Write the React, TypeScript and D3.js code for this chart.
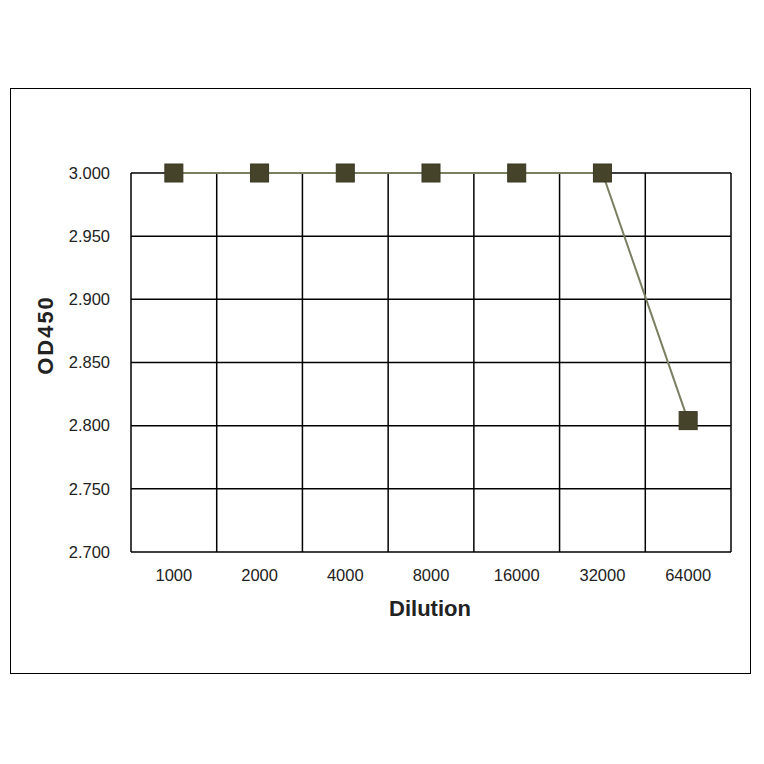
import React from "react";
import * as d3 from "d3";

const categories = ["1000", "2000", "4000", "8000", "16000", "32000", "64000"];
const values = [3.0, 3.0, 3.0, 3.0, 3.0, 3.0, 2.804];
const yTicks = [2.7, 2.75, 2.8, 2.85, 2.9, 2.95, 3.0];

export default function App() {
  const W = 764, H = 764;
  const left = 131, right = 731, top = 173, bottom = 552;
  const x = d3.scaleBand<string>().domain(categories).range([left, right]).paddingInner(0).paddingOuter(0);
  const y = d3.scaleLinear().domain([2.7, 3.0]).range([bottom, top]);
  const line = d3.line<number>()
    .x((_, i) => (x(categories[i]) as number) + x.bandwidth() / 2)
    .y((d) => y(d));
  const font = "'Liberation Sans', Arial, sans-serif";
  const ms = 18;
  return (
    <svg width={W} height={H} style={{ position: "absolute", left: 0, top: 0 }}>
      <rect x={0} y={0} width={W} height={H} fill="#fff" />
      <rect x={10.5} y={88.5} width={740} height={585} fill="none" stroke="#000" strokeWidth={1} />
      {yTicks.map((t) => (
        <line key={"h" + t} x1={left} x2={right} y1={y(t)} y2={y(t)} stroke="#000" strokeWidth={1.5} />
      ))}
      {categories.map((c) => (
        <line key={"v" + c} x1={x(c)} x2={x(c)} y1={top} y2={bottom} stroke="#000" strokeWidth={1.5} />
      ))}
      <line x1={right} x2={right} y1={top} y2={bottom} stroke="#000" strokeWidth={1.5} />
      {yTicks.map((t) => (
        <text key={"yl" + t} x={110} y={y(t)} dy="0.35em" textAnchor="end" fontFamily={font} fontSize={16.5} fill="#222">
          {d3.format(".3f")(t)}
        </text>
      ))}
      {categories.map((c) => (
        <text key={"xl" + c} x={(x(c) as number) + x.bandwidth() / 2} y={575} dy="0.35em" textAnchor="middle" fontFamily={font} fontSize={16.5} fill="#222">
          {c}
        </text>
      ))}
      <text x={430} y={608} dy="0.35em" textAnchor="middle" fontFamily={font} fontSize={22} fontWeight="bold" fill="#222">
        Dilution
      </text>
      <text transform={`translate(45,335) rotate(-90)`} dy="0.35em" textAnchor="middle" fontFamily={font} fontSize={22} fontWeight="bold" letterSpacing={2} fill="#222">
        OD450
      </text>
      <path d={line(values) || ""} fill="none" stroke="#7b7f62" strokeWidth={2} />
      {values.map((v, i) => (
        <rect key={"m" + i} x={(x(categories[i]) as number) + x.bandwidth() / 2 - ms / 2} y={y(v) - ms / 2} width={ms} height={ms} fill="#46432b" stroke="#3a3822" strokeWidth={1} />
      ))}
    </svg>
  );
}
